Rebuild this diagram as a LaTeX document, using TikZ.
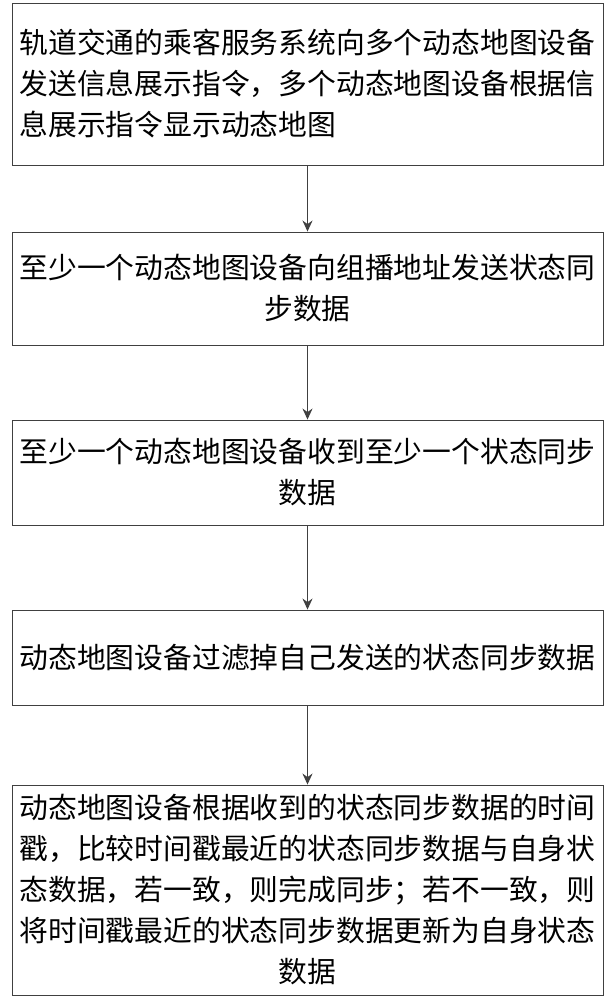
\documentclass[tikz,border=0pt]{standalone}
\usepackage{fontspec}
\newfontfamily\cjk{Noto Sans CJK SC}
\usetikzlibrary{arrows.meta}
\begin{document}
\begin{tikzpicture}[x=1pt,y=-1pt,
  stepbox/.style={draw=black!75,line width=0.9pt,minimum width=591pt,inner sep=0pt,font=\cjk\fontsize{28.8}{41}\selectfont},
  flow/.style={draw=black!75,line width=1.4pt,-{Stealth[length=11pt,width=10pt]}}]
\useasboundingbox (0,0) rectangle (615,1000);

\node[stepbox,minimum height=162pt,align=left] (S1) at (307.5,84) {轨道交通的乘客服务系统向多个动态地图设备\\发送信息展示指令，多个动态地图设备根据信\\息展示指令显示动态地图};
\node[stepbox,minimum height=113pt,align=center] (S2) at (307.5,288.5) {至少一个动态地图设备向组播地址发送状态同\\步数据};
\node[stepbox,minimum height=105pt,align=center] (S3) at (307.5,472.5) {至少一个动态地图设备收到至少一个状态同步\\数据};
\node[stepbox,minimum height=95pt,align=center] (S4) at (307.5,657.5) {动态地图设备过滤掉自己发送的状态同步数据};
\node[stepbox,minimum height=210pt,align=center] (S5) at (307.5,890) {动态地图设备根据收到的状态同步数据的时间\\戳，比较时间戳最近的状态同步数据与自身状\\态数据，若一致，则完成同步；若不一致，则\\将时间戳最近的状态同步数据更新为自身状态\\数据};

\draw[flow] (S1.south) -- (S2.north);
\draw[flow] (S2.south) -- (S3.north);
\draw[flow] (S3.south) -- (S4.north);
\draw[flow] (S4.south) -- (S5.north);
\end{tikzpicture}
\end{document}
